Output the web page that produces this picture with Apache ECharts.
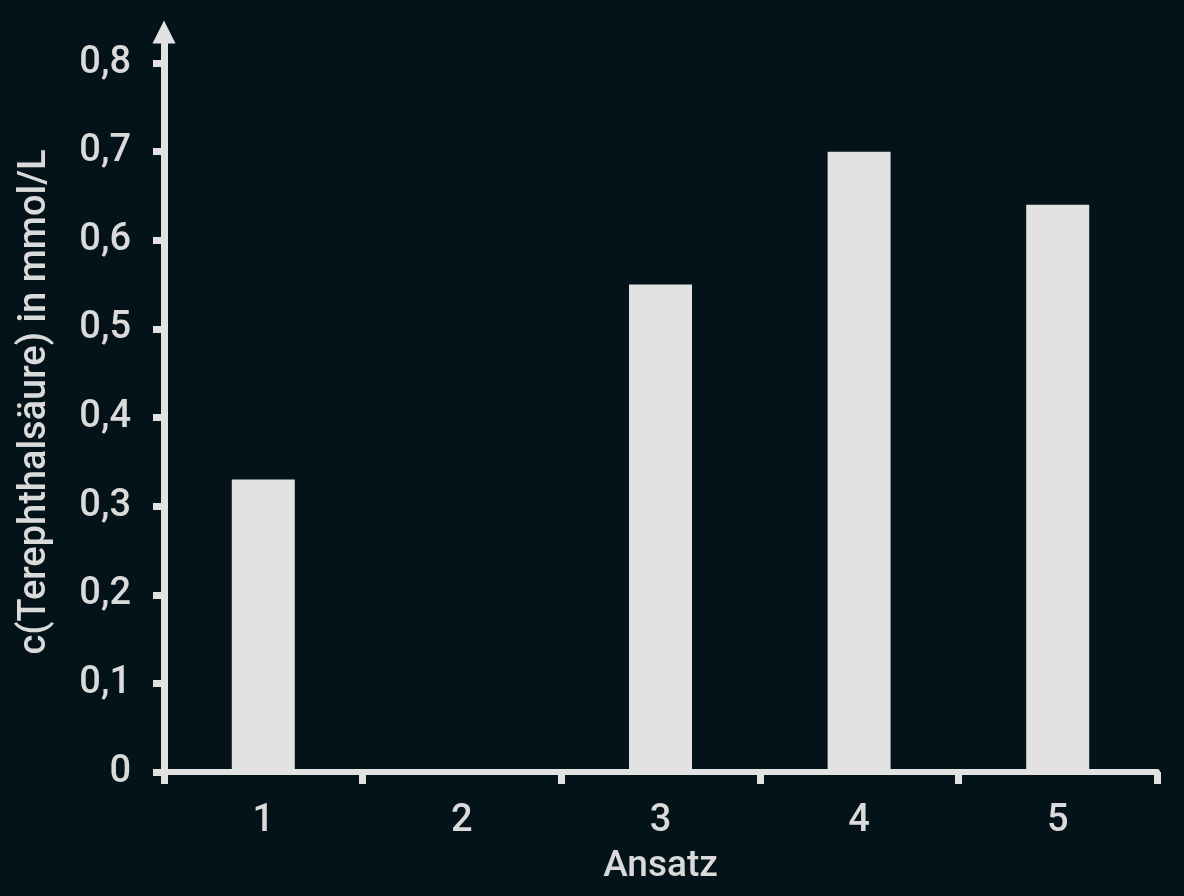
<!DOCTYPE html>
<html>
<head>
<meta charset="utf-8">
<script src="https://cdn.jsdelivr.net/npm/echarts@6/dist/echarts.min.js"></script>
<style>
  html, body { margin: 0; padding: 0; background: #04131a; }
  #chart { width: 1184px; height: 896px; }
</style>
</head>
<body>
<div id="chart"></div>
<script>
// values
const categories = ['1', '2', '3', '4', '5'];
const concentration = [0.33, 0, 0.55, 0.70, 0.64];
const yTicks = [0, 0.1, 0.2, 0.3, 0.4, 0.5, 0.6, 0.7, 0.8];

const fg = '#e2e2e2';
const textColor = '#dadada';
const font = 'Roboto, "Noto Sans", sans-serif';

const chart = echarts.init(document.getElementById('chart'));

chart.setOption({
    backgroundColor: '#04131a',
    animation: false,
    grid: {
        left: 164,
        right: 27,
        top: 32,
        bottom: 124,
        containLabel: false
    },
    xAxis: {
        type: 'category',
        data: categories,
        name: 'Ansatz',
        nameLocation: 'middle',
        nameGap: 76,
        nameTextStyle: {color: textColor, fontSize: 37, fontWeight: 500, fontFamily: font},
        axisLine: {show: true, lineStyle: {color: fg, width: 6}},
        axisTick: {show: true, length: 12, lineStyle: {color: fg, width: 7}},
        axisLabel: {color: textColor, fontSize: 38, fontWeight: 500, fontFamily: font, margin: 30},
        splitLine: {show: false}
    },
    yAxis: {
        type: 'value',
        min: 0,
        max: 0.835,
        name: 'c(Terephthalsäure) in mmol/L',
        nameLocation: 'middle',
        nameGap: 110,
        nameTextStyle: {color: textColor, fontSize: 38, fontWeight: 500, fontFamily: font},
        axisLine: {
            show: true,
            symbol: ['none', 'triangle'],
            symbolSize: [23, 23],
            lineStyle: {color: fg, width: 7}
        },
        axisTick: {show: true, length: 11, customValues: yTicks, lineStyle: {color: fg, width: 7}},
        axisLabel: {
            color: textColor,
            fontSize: 38,
            fontWeight: 500,
            fontFamily: font,
            margin: 33,
            customValues: yTicks,
            formatter: v => String(Math.round(v * 10) / 10).replace('.', ',')
        },
        splitLine: {show: false}
    },
    series: [{
        type: 'bar',
        data: concentration,
        barWidth: 63,
        itemStyle: {color: fg},
        z: 1
    }]
});
</script>
</body>
</html>
